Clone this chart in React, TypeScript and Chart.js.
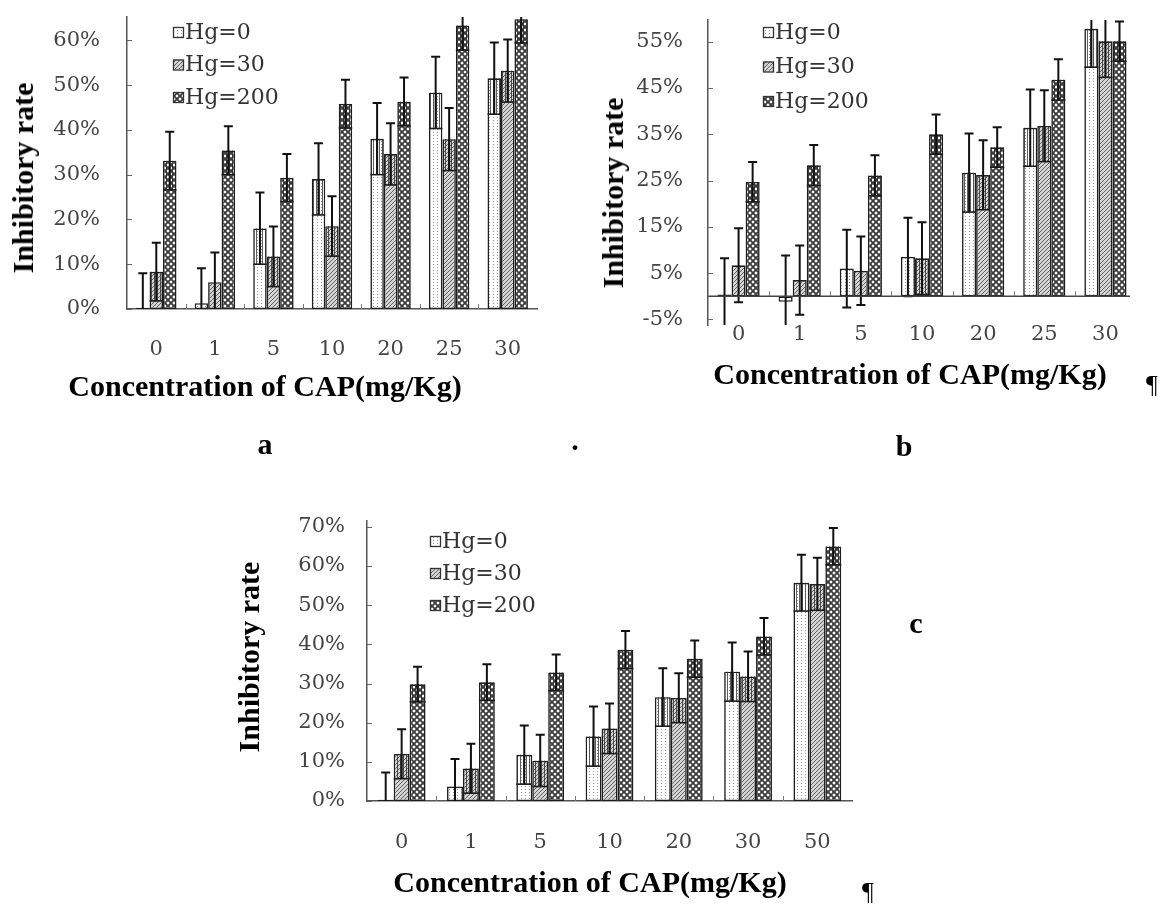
import React, { useEffect, useRef } from 'react';
import { Chart, registerables } from 'chart.js';
Chart.register(...registerables);

// ---------- data ----------
const seriesLabels = ['Hg=0', 'Hg=30', 'Hg=200'];

// panel a
const catsA = ['0', '1', '5', '10', '20', '25', '30'];
const aHg0 = [0.3, 1.3, 18, 29, 38, 48.3, 51.5];
const aHg0Err = [7.7, 7.8, 8, 8, 8, 8, 8];
const aHg30 = [8.3, 6, 11.7, 18.5, 34.6, 37.9, 53.2];
const aHg30Err = [6.5, 6.6, 6.7, 6.7, 6.9, 7, 7];
const aHg200 = [33.1, 35.4, 29.3, 45.8, 46.3, 63.3, 64.7];
const aHg200Err = [6.5, 5.4, 5.3, 5.4, 5.4, 5.5, 5.3];
const ticksA = [0, 10, 20, 30, 40, 50, 60];

// panel b
const catsB = ['0', '1', '5', '10', '20', '25', '30'];
const bHg0 = [0.4, -1.2, 6, 8.5, 26.7, 36.4, 57.8];
const bHg0Err = [7.8, 10, 8.4, 8.5, 8.5, 8.3, 8.3];
const bHg30 = [6.7, 3.5, 5.5, 8.2, 26.2, 36.8, 55.1];
const bHg30Err = [8, 7.5, 7.4, 7.8, 7.5, 7.7, 7.8];
const bHg200 = [24.7, 28.3, 26.1, 35, 32.2, 46.8, 55.1];
const bHg200Err = [4.3, 4.4, 4.4, 4.3, 4.3, 4.4, 4.3];
const ticksB = [-5, 5, 15, 25, 35, 45, 55];

// panel c
const catsC = ['0', '1', '5', '10', '20', '30', '50'];
const cHg0 = [0.3, 3.7, 11.8, 16.5, 26.5, 33, 55.7];
const cHg0Err = [7, 7, 7.5, 7.6, 7.4, 7.5, 7.2];
const cHg30 = [12, 8.3, 10.3, 18.5, 26.3, 31.8, 55.4];
const cHg30Err = [6.3, 6.3, 6.6, 6.4, 6.3, 6.4, 6.7];
const cHg200 = [29.8, 30.3, 32.8, 38.6, 36.3, 42, 65];
const cHg200Err = [4.5, 4.6, 4.6, 4.8, 4.7, 4.7, 4.7];
const ticksC = [0, 10, 20, 30, 40, 50, 60, 70];

const xTitle = 'Concentration of CAP(mg/Kg)';
const yTitle = 'Inhibitory rate';

// ---------- layout (page pixels) ----------
const W = 1161;
const H = 909;

const panels = [
  {
    cats: catsA, values: [aHg0, aHg30, aHg200], errors: [aHg0Err, aHg30Err, aHg200Err], ticks: ticksA,
    min: 0, max: 65.2, area: { l: 127, t: 17, r: 537, b: 309 }, yPad: 27, xPad: 28,
    legend: { x: 173, y0: 32, dy: 32.5 }, zeroLine: false, xBorder: true,
  },
  {
    cats: catsB, values: [bHg0, bHg30, bHg200], errors: [bHg0Err, bHg30Err, bHg200Err], ticks: ticksB,
    min: -6.2, max: 59.7, area: { l: 708, t: 20, r: 1136, b: 325 }, yPad: 25, xPad: -3,
    legend: { x: 763, y0: 32, dy: 34.5 }, zeroLine: true, zeroEnd: 1130, xBorder: false,
  },
  {
    cats: catsC, values: [cHg0, cHg30, cHg200], errors: [cHg0Err, cHg30Err, cHg200Err], ticks: ticksC,
    min: 0, max: 71.5, area: { l: 367, t: 521, r: 852, b: 801 }, yPad: 22, xPad: 29,
    legend: { x: 430, y0: 541, dy: 32 }, zeroLine: false, xBorder: true,
  },
];

function makePatterns() {
  const mk = (w: number, h: number, draw: (c: CanvasRenderingContext2D) => void) => {
    const cv = document.createElement('canvas');
    cv.width = w; cv.height = h;
    const c = cv.getContext('2d')!;
    draw(c);
    return c.createPattern(cv, 'repeat')!;
  };
  const dots = mk(4, 3, (c) => {
    c.fillStyle = '#ffffff'; c.fillRect(0, 0, 4, 3);
    c.fillStyle = '#9a9a9a'; c.fillRect(1, 0, 1, 1);
  });
  const hatch = mk(4, 4, (c) => {
    c.fillStyle = '#d4d4d4'; c.fillRect(0, 0, 4, 4);
    c.fillStyle = '#606060';
    for (let i = 0; i < 4; i++) c.fillRect(i, 3 - i, 1, 1);
  });
  const cross = mk(6, 6, (c) => {
    c.fillStyle = '#ffffff'; c.fillRect(0, 0, 6, 6);
    c.strokeStyle = '#3c3c3c'; c.lineWidth = 1.9;
    c.beginPath();
    c.moveTo(-1, -1); c.lineTo(7, 7);
    c.moveTo(7, -1); c.lineTo(-1, 7);
    c.stroke();
  });
  const stripes = mk(3, 2, (c) => {
    c.clearRect(0, 0, 3, 2);
    c.fillStyle = 'rgba(40,40,40,0.75)'; c.fillRect(1, 0, 1, 2);
  });
  return { dots, hatch, cross, stripes };
}

function BarPanel({ p }: { p: any }) {
  const ref = useRef<HTMLCanvasElement | null>(null);
  useEffect(() => {
    const canvas = ref.current!;
    const pats = makePatterns();
    const fills = [pats.dots, pats.hatch, pats.cross];
    const yW = 100;
    const xH = 60;

    const errorBars = {
      id: 'errBars',
      afterDatasetsDraw(chart: any) {
        const { ctx, chartArea } = chart;
        const ys = chart.scales.y;
        ctx.save();
        ctx.beginPath();
        ctx.rect(chartArea.left, chartArea.top, chartArea.right - chartArea.left, chartArea.bottom - chartArea.top);
        ctx.clip();
        chart.data.datasets.forEach((ds: any, i: number) => {
          const meta = chart.getDatasetMeta(i);
          meta.data.forEach((el: any, j: number) => {
            const v = ds.data[j];
            const e = ds.errors[j];
            const x = el.x;
            const half = el.width / 2;
            const pv = ys.getPixelForValue(v);
            const ph = ys.getPixelForValue(v + e);
            const pl = ys.getPixelForValue(v - e);
            const cap = 4.5;
            if (v > 0 && v - e > 0) {
              ctx.fillStyle = pats.stripes;
              ctx.fillRect(x - half + 1, pv, el.width - 2, pl - pv);
              ctx.strokeStyle = '#1a1a1a';
              ctx.lineWidth = 1.6;
              ctx.beginPath();
              ctx.moveTo(x - half, pl); ctx.lineTo(x + half, pl);
              ctx.stroke();
            }
            ctx.strokeStyle = '#111';
            ctx.lineWidth = 2;
            ctx.beginPath();
            ctx.moveTo(x, pl); ctx.lineTo(x, ph);
            ctx.moveTo(x - cap, ph); ctx.lineTo(x + cap, ph);
            if (!(v > 0 && v - e > 0)) {
              ctx.moveTo(x - cap, pl); ctx.lineTo(x + cap, pl);
            }
            ctx.stroke();
          });
        });
        ctx.restore();
      },
    };

    const decor = {
      id: 'decor',
      afterDraw(chart: any) {
        const { ctx, chartArea } = chart;
        const ys = chart.scales.y;
        const xs = chart.scales.x;
        ctx.save();
        ctx.strokeStyle = '#666';
        ctx.lineWidth = 1;
        ys.ticks.forEach((t: any) => {
          const py = Math.round(ys.getPixelForValue(t.value)) + 0.5;
          ctx.beginPath();
          ctx.moveTo(chartArea.left, py); ctx.lineTo(chartArea.left + 5, py);
          ctx.stroke();
        });
        const p0 = ys.getPixelForValue(0);
        if (p.zeroLine) {
          ctx.strokeStyle = '#444';
          ctx.lineWidth = 1.5;
          ctx.beginPath();
          ctx.moveTo(chartArea.left, p0); ctx.lineTo(p.zeroEnd, p0);
          ctx.stroke();
        }
        const n = xs.ticks.length;
        const cw = (chartArea.right - chartArea.left) / n;
        ctx.strokeStyle = '#777';
        ctx.lineWidth = 1;
        for (let i = 1; i < n; i++) {
          const px = Math.round(chartArea.left + i * cw) + 0.5;
          ctx.beginPath();
          ctx.moveTo(px, p0); ctx.lineTo(px, p0 - 5);
          ctx.stroke();
        }
        chart.data.datasets.forEach((ds: any, i: number) => {
          const lx = p.legend.x;
          const ly = p.legend.y0 + i * p.legend.dy;
          ctx.fillStyle = ds.backgroundColor;
          ctx.fillRect(lx, ly - 5, 10, 10);
          ctx.strokeStyle = '#333';
          ctx.lineWidth = 1.3;
          ctx.strokeRect(lx + 0.5, ly - 4.5, 10, 10);
          ctx.fillStyle = '#333';
          ctx.font = '22px "DejaVu Serif"';
          ctx.textBaseline = 'middle';
          ctx.textAlign = 'left';
          ctx.fillText(ds.label, lx + 12, ly + 1);
        });
        ctx.restore();
      },
    };

    const tickFont = { family: '"DejaVu Serif"', size: 21 };
    const chart = new Chart(canvas, {
      type: 'bar',
      data: {
        labels: p.cats,
        datasets: seriesLabels.map((label, i) => ({
          label,
          data: p.values[i],
          errors: p.errors[i],
          backgroundColor: fills[i],
          borderColor: '#1e1e1e',
          borderWidth: 1.6,
          borderSkipped: false,
          categoryPercentage: 0.69,
          barPercentage: 1,
        })) as any,
      },
      options: {
        animation: false,
        responsive: false,
        devicePixelRatio: 1,
        layout: {
          padding: {
            left: p.area.l - yW,
            top: p.area.t,
            right: W - p.area.r,
            bottom: H - p.area.b - xH,
          },
        },
        plugins: { legend: { display: false }, tooltip: { enabled: false } },
        scales: {
          x: {
            grid: { display: false, drawTicks: false },
            border: { display: p.xBorder, color: '#555', width: 1.5 },
            ticks: { font: tickFont, color: '#444', padding: p.xPad, autoSkip: false, maxRotation: 0 },
            afterFit: (s: any) => {
              s.height = xH;
              s.paddingLeft = 0;
              s.paddingRight = 0;
            },
          },
          y: {
            min: p.min,
            max: p.max,
            bounds: 'data',
            afterBuildTicks: (s: any) => {
              s.ticks = p.ticks.map((v: number) => ({ value: v }));
              s.min = p.min;
              s.max = p.max;
            },
            grid: { display: false, drawTicks: false },
            border: { display: true, color: '#555', width: 1.5 },
            ticks: { font: tickFont, color: '#444', padding: p.yPad, autoSkip: false, callback: (v: any) => v + '%' },
            afterFit: (s: any) => {
              s.width = yW;
              s.paddingTop = 0;
              s.paddingBottom = 0;
            },
          },
        },
      } as any,
      plugins: [errorBars, decor],
    });
    return () => chart.destroy();
  }, [p]);
  return (
    <canvas
      ref={ref}
      width={W}
      height={H}
      style={{ position: 'absolute', left: 0, top: 0, width: W, height: H }}
    />
  );
}

function Label({ x, y, text, size, bold, rotate }: any) {
  return (
    <div
      style={{
        position: 'absolute',
        left: x,
        top: y,
        transform: `translate(-50%, -50%)${rotate ? ' rotate(-90deg)' : ''}`,
        font: `${bold ? 'bold ' : ''}${size}px "Liberation Serif"`,
        lineHeight: 1,
        whiteSpace: 'nowrap',
        color: '#000',
      }}
    >
      {text}
    </div>
  );
}

export default function App() {
  return (
    <div style={{ position: 'absolute', left: 0, top: 0, width: W, height: H, background: '#fff', overflow: 'hidden' }}>
      {panels.map((p, i) => (
        <BarPanel key={i} p={p} />
      ))}
      <Label x={23} y={178} text={yTitle} size={30} bold rotate />
      <Label x={613} y={193} text={yTitle} size={30} bold rotate />
      <Label x={249} y={657} text={yTitle} size={30} bold rotate />
      <Label x={265} y={386} text={xTitle} size={30} bold />
      <Label x={910} y={374} text={xTitle} size={30} bold />
      <Label x={590} y={882} text={xTitle} size={30} bold />
      <Label x={265} y={444} text="a" size={30} bold />
      <Label x={904} y={446} text="b" size={30} bold />
      <Label x={916} y={623} text="c" size={30} bold />
      <Label x={575} y={440} text="." size={30} bold />
      <Label x={1152} y={385} text="¶" size={26} />
      <Label x={868} y={892} text="¶" size={26} />
    </div>
  );
}
